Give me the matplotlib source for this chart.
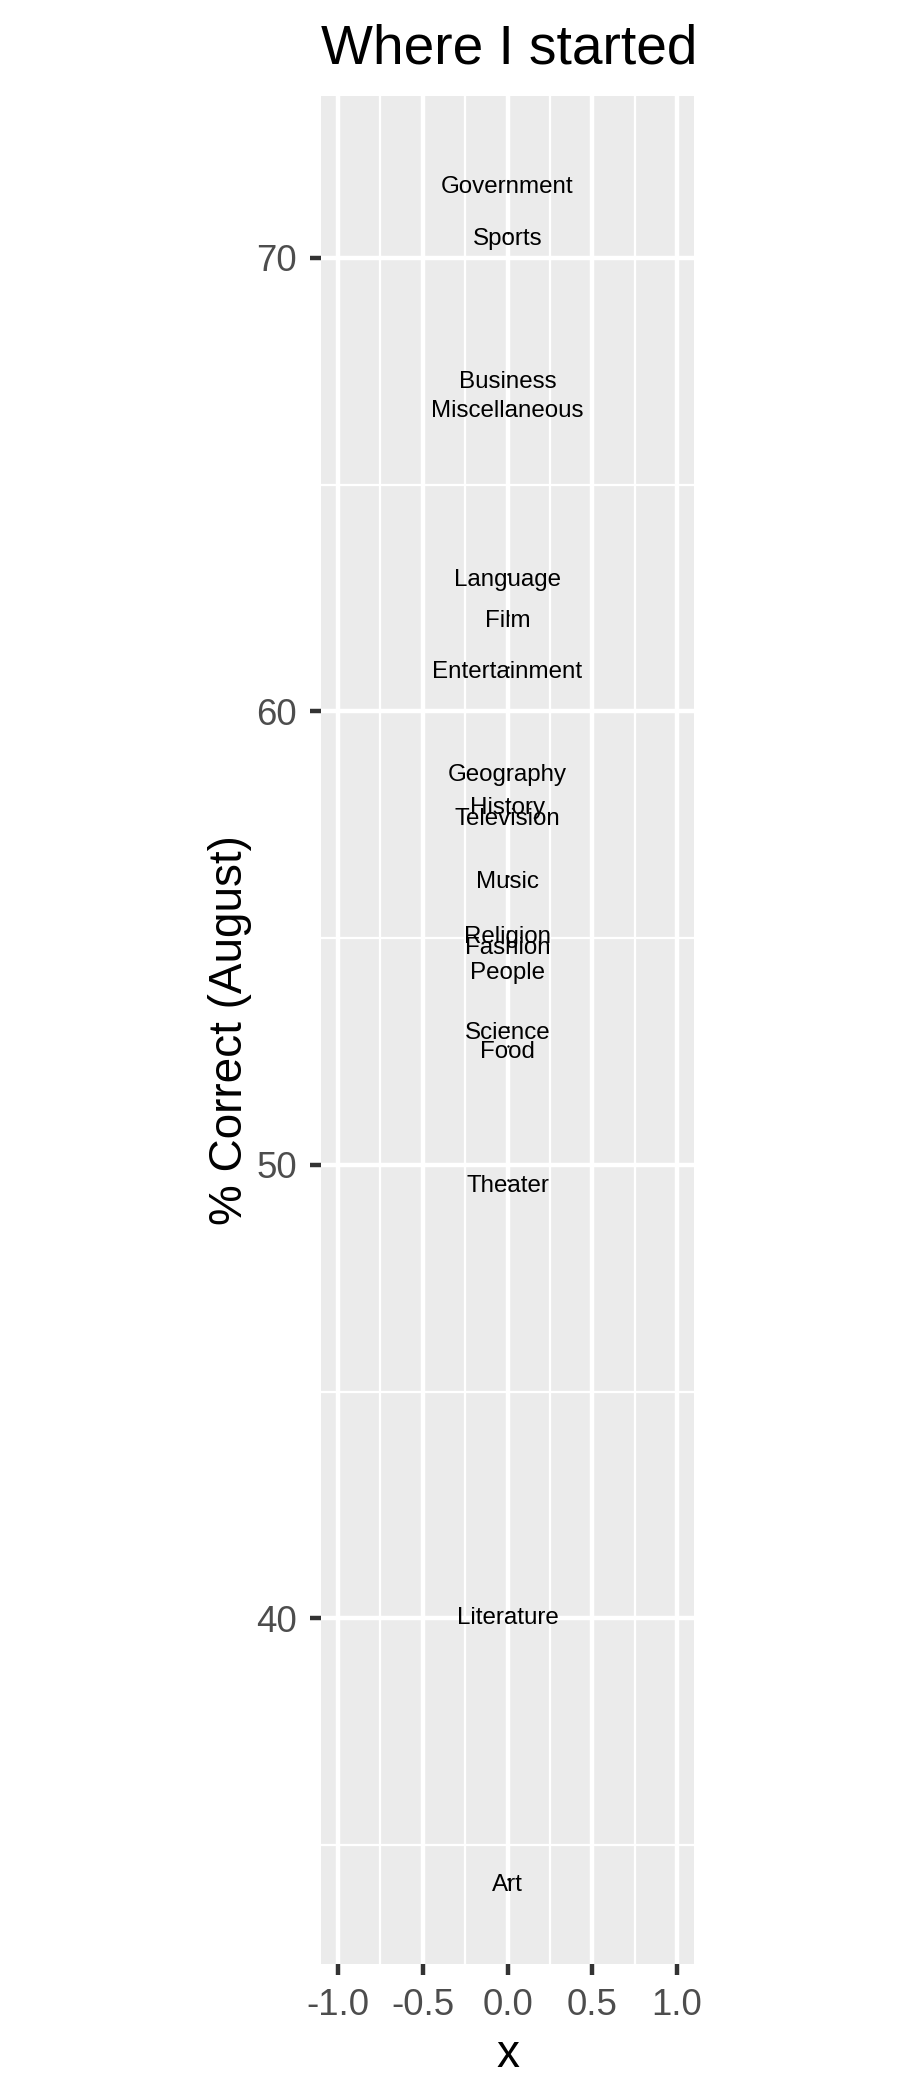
import numpy as np
import matplotlib
matplotlib.use("Agg")
import matplotlib.pyplot as plt
import matplotlib.transforms as mtransforms
from matplotlib.ticker import MultipleLocator

# categories and their August % correct
categories = [
    "Government", "Sports", "Business", "Miscellaneous", "Language", "Film",
    "Entertainment", "Geography", "History", "Television", "Music", "Religion",
    "Fashion", "People", "Science", "Food", "Theater", "Literature", "Art",
]
pct_august = [
    71.70, 70.55, 67.40, 66.75, 63.03, 62.12,
    60.99, 58.72, 58.01, 57.75, 56.36, 55.15,
    54.92, 54.36, 53.03, 52.62, 49.67, 40.14, 34.25,
]
x_pos = [0.0] * len(categories)

plt.rcParams["font.family"] = ["Liberation Sans", "DejaVu Sans"]

fig = plt.figure(figsize=(9, 21), dpi=100)
ax = fig.add_axes([0.3567, 0.0648, 0.4144, 0.8895])
ax.set_facecolor("#EBEBEB")
for s in ax.spines.values():
    s.set_visible(False)

# tiny points under the labels
ax.scatter(x_pos, pct_august, s=3, color="black", zorder=3, linewidths=0)
lab_tr = mtransforms.offset_copy(ax.transData, fig=fig, x=0, y=-2.5, units="points")
for xv, yv, lab in zip(x_pos, pct_august, categories):
    ax.text(xv, yv, lab, ha="center", va="center_baseline", fontsize=17.4,
            color="black", zorder=4, transform=lab_tr)

ax.set_xlim(-1.1, 1.1)
ymin, ymax = min(pct_august), max(pct_august)
pad = (ymax - ymin) * 0.05
ax.set_ylim(ymin - pad, ymax + pad)

ax.xaxis.set_major_locator(MultipleLocator(0.5))
ax.xaxis.set_minor_locator(MultipleLocator(0.25))
ax.yaxis.set_major_locator(MultipleLocator(10))
ax.yaxis.set_minor_locator(MultipleLocator(5))
ax.xaxis.set_major_formatter(plt.FuncFormatter(lambda v, p: f"{v:.1f}"))

ax.grid(True, which="major", color="white", lw=3.2)
ax.grid(True, which="minor", color="white", lw=1.6)
ax.set_axisbelow(True)

ax.tick_params(which="major", length=8.25, width=3.2, color="#333333",
               labelsize=26.4, labelcolor="#4D4D4D", pad=9)
ax.tick_params(which="minor", length=0)

ax.set_xlabel("x", fontsize=33, color="black", va="center")
ax.xaxis.set_label_coords(0.5, -0.0485)
ax.set_ylabel("% Correct (August)", fontsize=33, color="black", va="center")
ax.yaxis.set_label_coords(-0.245, 0.5)

fig.text(0.3567, 1 - 63 / 2100, "Where I started", fontsize=39.6,
         ha="left", va="baseline", color="black")

fig.savefig("out.png", dpi=100, facecolor="white")
